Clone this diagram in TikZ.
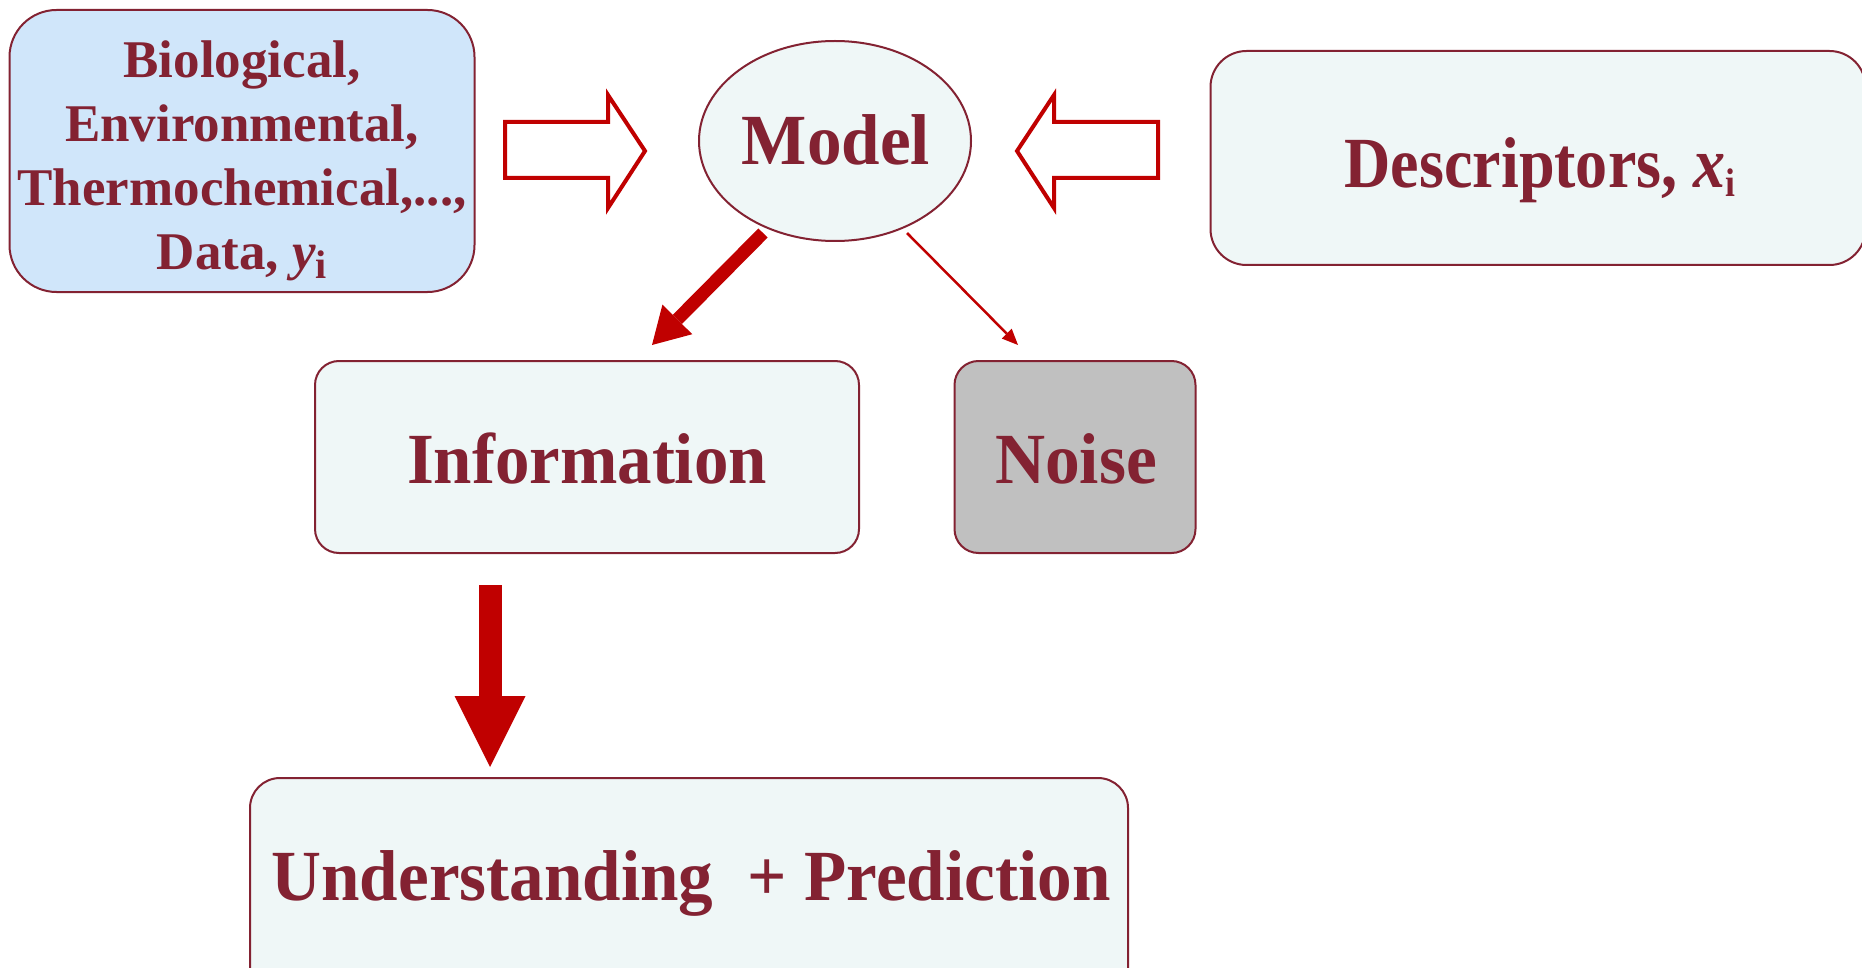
\documentclass[tikz,border=0pt]{standalone}
\usepackage{fontspec}
\setmainfont{Liberation Serif}
\usetikzlibrary{arrows.meta,shapes.geometric}
\definecolor{maroon}{HTML}{832232}
\definecolor{arrowred}{HTML}{C00000}
\definecolor{paleblue}{HTML}{D0E6FA}
\definecolor{palecyan}{HTML}{EFF7F7}
\definecolor{noisegray}{HTML}{C0C0C0}
\newcommand\labelfont{\fontsize{72}{80}\selectfont\bfseries}
\newcommand\listfont{\fontsize{53}{64}\selectfont\bfseries}
\newcommand\sub[1]{\raisebox{-9pt}{\fontsize{40}{40}\selectfont\bfseries #1}}
\newcommand\narrow[2]{\scalebox{#1}[1]{#2}}
\tikzset{
  box/.style={draw=maroon, line width=2pt, inner sep=0pt},
  lbl/.style={text=maroon, inner sep=0pt, font=\labelfont, anchor=base},
  hollow/.style={draw=arrowred, line width=4pt, fill=white, line join=miter},
  fatarrow/.style={arrowred, line width=#1},
}
\begin{document}
\begin{tikzpicture}[x=1pt,y=-1pt]
\useasboundingbox (0,0) rectangle (1862,968);

% boxes
\node[box, fill=paleblue, rounded corners=47pt, minimum width=465pt, minimum height=282pt] (data) at (242,151) {};
\node[box, fill=palecyan, ellipse, minimum width=272pt, minimum height=200pt] (model) at (835,141) {};
\node[box, fill=palecyan, rounded corners=36pt, minimum width=655pt, minimum height=214pt] (desc) at (1538,158) {};
\node[box, fill=palecyan, rounded corners=24pt, minimum width=544pt, minimum height=192pt] (info) at (587,457) {};
\node[box, fill=noisegray, rounded corners=24pt, minimum width=241pt, minimum height=192pt] (noise) at (1075,457) {};
\node[box, fill=palecyan, rounded corners=30pt, minimum width=878pt, minimum height=230pt] (under) at (689,893) {};

% box texts
\node[lbl, font=\listfont, align=center, anchor=center] (datatext) at (242,161)
  {Biological,\\Environmental,\\Thermochemical,...,\\Data, \textit{y}\sub{i}};
\node[lbl] (modeltext) at (836,165) {\narrow{0.96}{Model}};
\node[lbl] (desctext) at (1540,188) {\narrow{0.89}{Descriptors, \textit{x}\sub{i}}};
\node[lbl] (infotext) at (587,483) {\narrow{0.957}{Information}};
\node[lbl] (noisetext) at (1076,483) {\narrow{0.964}{Noise}};
\node[lbl] (undertext) at (691,900) {\narrow{0.96}{Understanding~~+ Prediction}};

% hollow input arrows
\draw[hollow] (505,122) -- (608,122) -- (608,95) -- (645,151) -- (608,208) -- (608,178) -- (505,178) -- cycle;
\draw[hollow] (1158,122) -- (1054,122) -- (1054,95) -- (1017,151) -- (1054,208) -- (1054,178) -- (1158,178) -- cycle;

% connectors
\coordinate (mi) at (763,233);
\coordinate (ie) at (652,345);
\coordinate (mn) at (907,233);
\coordinate (ne) at (1018,345);
\coordinate (iu) at (490,585);
\coordinate (ue) at (490,767);
\draw[fatarrow=13pt, -{Triangle[width=42pt,length=36pt,line width=0pt]}] (mi) -- (ie);
\draw[fatarrow=2.5pt, -{Triangle[width=14pt,length=16pt,line width=0pt]}] (mn) -- (ne);
\draw[fatarrow=23pt, -{Triangle[width=71pt,length=71pt,line width=0pt]}] (iu) -- (ue);
\end{tikzpicture}
\end{document}
